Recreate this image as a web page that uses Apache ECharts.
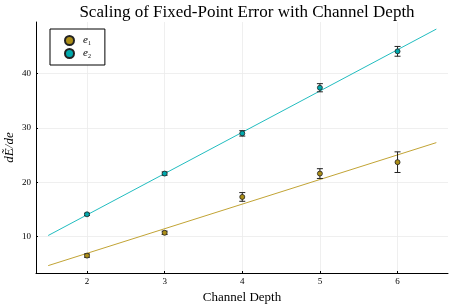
<!DOCTYPE html>
<html>
<head>
<meta charset="utf-8">
<script src="https://cdn.jsdelivr.net/npm/echarts@6/dist/echarts.min.js"></script>
<style>html,body{margin:0;padding:0;background:#fff}#c{width:457px;height:305px}</style>
</head>
<body>
<div id="c"></div>
<script>
const depths = [2, 3, 4, 5, 6];
const e1Values = [6.5, 10.7, 17.3, 21.6, 23.7];
const e1Errors = [0.3, 0.3, 0.8, 0.9, 1.9];
const e2Values = [14.1, 21.6, 29.0, 37.4, 44.1];
const e2Errors = [0.2, 0.3, 0.5, 0.75, 0.9];
const fitX = [1.5, 6.5];
const e1Fit = [4.66, 27.3];
const e2Fit = [10.2, 48.2];
const xTicks = [2, 3, 4, 5, 6];
const yTicks = [10, 20, 30, 40];

const c1 = '#AC8E18', c2 = '#00A9AD';
const l1 = '#C2A435', l2 = '#22BDC0';
const serif = '"Liberation Serif", "DejaVu Serif", serif';

function pts(vals) { return depths.map((d, i) => [d, vals[i]]); }
function errData(vals, errs) { return depths.map((d, i) => [d, vals[i] - errs[i], vals[i] + errs[i]]); }
function errSeries(vals, errs) {
  return {
    type: 'custom', silent: true, z: 3,
    data: errData(vals, errs),
    renderItem: function (params, api) {
      const lo = api.coord([api.value(0), api.value(1)]);
      const hi = api.coord([api.value(0), api.value(2)]);
      const w = 3;
      const st = { stroke: '#222', lineWidth: 1 };
      return { type: 'group', children: [
        { type: 'line', shape: { x1: lo[0], y1: lo[1], x2: hi[0], y2: hi[1] }, style: st },
        { type: 'line', shape: { x1: lo[0] - w, y1: lo[1], x2: lo[0] + w, y2: lo[1] }, style: st },
        { type: 'line', shape: { x1: hi[0] - w, y1: hi[1], x2: hi[0] + w, y2: hi[1] }, style: st }
      ]};
    }
  };
}

const chart = echarts.init(document.getElementById('c'), null, { renderer: 'canvas' });
chart.setOption({
  animation: false,
  backgroundColor: '#fff',
  title: {
    text: 'Scaling of Fixed-Point Error with Channel Depth',
    left: 242, textAlign: 'center', top: -1,
    textStyle: { fontFamily: serif, fontWeight: 'normal', fontSize: 17, color: '#000' }
  },
  grid: { left: 36, right: 9, top: 22, bottom: 32, containLabel: false, outerBoundsMode: 'none' },
  legend: {
    left: 50, top: 29, orient: 'vertical',
    data: ['e1', 'e2'],
    itemWidth: 9, itemHeight: 9, itemGap: 2,
    padding: [6, 14, 6, 14],
    borderColor: '#000', borderWidth: 1, backgroundColor: '#fff',
    icon: 'circle',
    formatter: function (n) { return '{e|e}{s|' + n.slice(1) + '}'; },
    textStyle: {
      fontFamily: serif, color: '#000', padding: [0, 0, 0, 4],
      rich: {
        e: { fontFamily: serif, fontStyle: 'italic', fontSize: 11, color: '#000' },
        s: { fontFamily: serif, fontSize: 6, color: '#000', verticalAlign: 'bottom', padding: [4, 0, 0, 0] }
      }
    }
  },
  xAxis: {
    type: 'value', min: 1.343, max: 6.65,
    name: 'Channel Depth', nameLocation: 'middle', nameGap: 12,
    nameTextStyle: { fontFamily: serif, fontSize: 13, color: '#000' },
    axisLine: { show: true, onZero: false, lineStyle: { color: '#000', width: 1 } },
    axisTick: { show: true, inside: true, length: 2, customValues: xTicks, lineStyle: { color: '#000' } },
    axisLabel: { customValues: xTicks, fontFamily: serif, fontSize: 9, color: '#000', margin: 4 },
    splitLine: { show: true, lineStyle: { color: '#ebebeb', width: 0.8 } }
  },
  yAxis: {
    type: 'value', min: 3.3, max: 49.5,
    name: 'dẼ/de', nameLocation: 'middle', nameGap: 20, nameRotate: 90, nameMoveOverlap: false,
    nameTextStyle: { fontFamily: serif, fontStyle: 'italic', fontSize: 13, color: '#000' },
    axisLine: { show: true, onZero: false, lineStyle: { color: '#000', width: 1 } },
    axisTick: { show: true, inside: true, length: 2, customValues: yTicks, lineStyle: { color: '#000' } },
    axisLabel: { customValues: yTicks, fontFamily: serif, fontSize: 9, color: '#000', margin: 5 },
    splitLine: { show: true, lineStyle: { color: '#ebebeb', width: 0.8 } }
  },
  series: [
    { name: 'e1fit', type: 'line', data: fitX.map((x, i) => [x, e1Fit[i]]), showSymbol: false, silent: true,
      lineStyle: { color: l1, width: 1 }, z: 2 },
    { name: 'e2fit', type: 'line', data: fitX.map((x, i) => [x, e2Fit[i]]), showSymbol: false, silent: true,
      lineStyle: { color: l2, width: 1 }, z: 2 },
    errSeries(e1Values, e1Errors),
    errSeries(e2Values, e2Errors),
    { name: 'e1', type: 'scatter', data: pts(e1Values), symbol: 'circle', symbolSize: 5, z: 4,
      itemStyle: { color: c1, borderColor: '#222', borderWidth: 0.8, opacity: 1 } },
    { name: 'e2', type: 'scatter', data: pts(e2Values), symbol: 'circle', symbolSize: 5, z: 4,
      itemStyle: { color: c2, borderColor: '#222', borderWidth: 0.8, opacity: 1 } }
  ]
});
</script>
</body>
</html>
